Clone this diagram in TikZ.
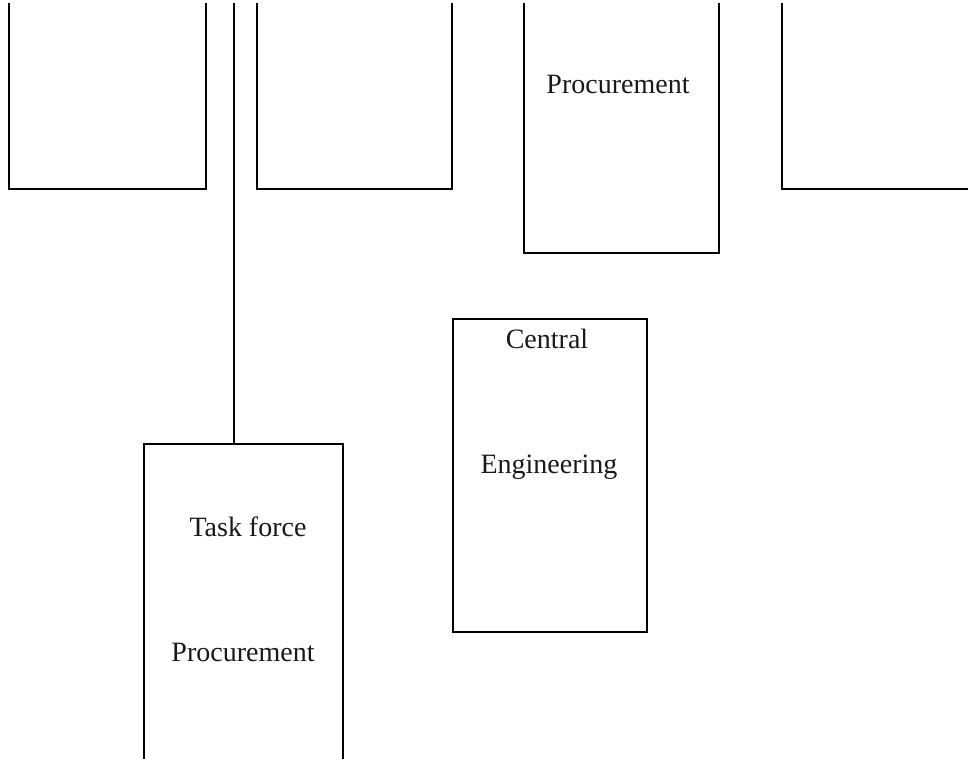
\documentclass[tikz,border=0pt]{standalone}
\usepackage{fontspec}
\setmainfont{Liberation Serif}
\newcommand\pxu{0.75pt}
\tikzset{
  orgbox/.style={draw=black, line width=2.2pt, rectangle, inner sep=0pt, outer sep=0pt, fill=none},
  orglabel/.style={anchor=base, inner sep=0pt, font=\fontsize{21}{25}\selectfont, text=black!90},
  link/.style={draw=black, line width=2.2pt}
}
\begin{document}
\begin{tikzpicture}[x=0.75pt, y=-0.75pt]
  \useasboundingbox (0,0) rectangle (968,758);
  \clip (0,3) rectangle (968,758);
  % boxes of the upper row (their tops run above the page)
  \node[orgbox, minimum width={197*\pxu}, minimum height={289*\pxu}] (b1) at (107.5,44.5) {};
  \node[orgbox, minimum width={195*\pxu}, minimum height={289*\pxu}] (b2) at (354.5,44.5) {};
  \node[orgbox, minimum width={195*\pxu}, minimum height={353*\pxu}] (b3) at (621.5,76.5) {};
  \node[orgbox, minimum width={268*\pxu}, minimum height={289*\pxu}] (b4) at (916,44.5) {};
  \node[orglabel] (t3) at (618,93) {Procurement};
  % lower boxes
  \node[orgbox, minimum width={199*\pxu}, minimum height={406*\pxu}] (tf) at (243.5,647) {};
  \node[orglabel] (tf1) at (248,536) {Task force};
  \node[orglabel] (tf2) at (243,661) {Procurement};
  \node[orgbox, minimum width={194*\pxu}, minimum height={313*\pxu}] (ce) at (550,475.5) {};
  \node[orglabel] (ce1) at (547,348) {Central};
  \node[orglabel] (ce2) at (549,473) {Engineering};
  % vertical line down to the task force box
  \coordinate (up) at (234,-20);
  \draw[link] (up) -- (up |- tf.north);
\end{tikzpicture}
\end{document}
